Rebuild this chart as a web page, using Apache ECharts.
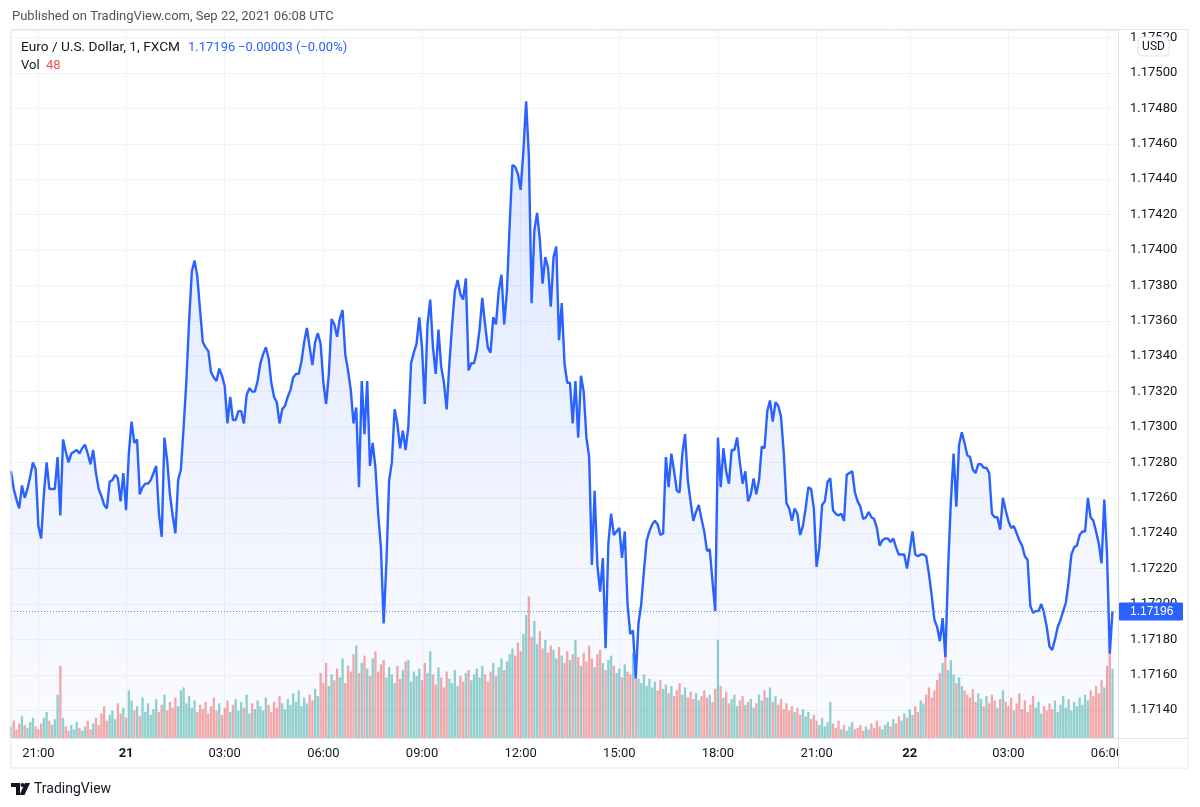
<!DOCTYPE html>
<html>
<head>
<meta charset="utf-8">
<title>EUR/USD 1m</title>
<script src="https://cdn.jsdelivr.net/npm/echarts@6/dist/echarts.min.js"></script>
<style>
  html, body { margin: 0; padding: 0; background: #fff; }
  #chart { width: 1200px; height: 807px; }
</style>
</head>
<body>
<div id="chart"></div>
<script>
// 5-minute samples of the 1-minute EUR/USD line, Sep 20 20:10 -> Sep 22 06:08 (UTC)
var prices = [
  1.17275, 1.17265, 1.17259, 1.17254, 1.17267, 1.17260, 1.17265, 1.17272, 1.17280, 1.17276,
  1.17244, 1.17237, 1.17262, 1.17280, 1.17265, 1.17265, 1.17265, 1.17283, 1.17250, 1.17293,
  1.17286, 1.17280, 1.17285, 1.17286, 1.17287, 1.17285, 1.17288, 1.17290, 1.17285, 1.17279,
  1.17287, 1.17274, 1.17265, 1.17261, 1.17256, 1.17254, 1.17269, 1.17270, 1.17273, 1.17271,
  1.17258, 1.17274, 1.17253, 1.17285, 1.17303, 1.17291, 1.17293, 1.17262, 1.17266, 1.17268,
  1.17268, 1.17270, 1.17274, 1.17278, 1.17251, 1.17238, 1.17294, 1.17281, 1.17262, 1.17250,
  1.17240, 1.17270, 1.17276, 1.17300, 1.17326, 1.17360, 1.17388, 1.17394, 1.17385, 1.17366,
  1.17348, 1.17345, 1.17343, 1.17331, 1.17328, 1.17326, 1.17333, 1.17329, 1.17323, 1.17302,
  1.17317, 1.17304, 1.17304, 1.17309, 1.17309, 1.17302, 1.17318, 1.17322, 1.17320, 1.17320,
  1.17326, 1.17336, 1.17341, 1.17345, 1.17339, 1.17325, 1.17317, 1.17314, 1.17302, 1.17310,
  1.17312, 1.17317, 1.17321, 1.17328, 1.17330, 1.17330, 1.17337, 1.17348, 1.17356, 1.17345,
  1.17335, 1.17348, 1.17353, 1.17347, 1.17325, 1.17313, 1.17330, 1.17361, 1.17358, 1.17351,
  1.17361, 1.17366, 1.17341, 1.17332, 1.17321, 1.17302, 1.17311, 1.17266, 1.17326, 1.17296,
  1.17326, 1.17278, 1.17291, 1.17277, 1.17251, 1.17232, 1.17189, 1.17223, 1.17270, 1.17280,
  1.17310, 1.17302, 1.17288, 1.17298, 1.17287, 1.17300, 1.17336, 1.17342, 1.17347, 1.17362,
  1.17345, 1.17313, 1.17358, 1.17372, 1.17345, 1.17330, 1.17355, 1.17334, 1.17325, 1.17310,
  1.17336, 1.17358, 1.17377, 1.17383, 1.17375, 1.17372, 1.17384, 1.17332, 1.17336, 1.17336,
  1.17343, 1.17355, 1.17373, 1.17358, 1.17345, 1.17342, 1.17362, 1.17358, 1.17377, 1.17386,
  1.17358, 1.17377, 1.17415, 1.17448, 1.17447, 1.17443, 1.17434, 1.17456, 1.17484, 1.17453,
  1.17370, 1.17411, 1.17421, 1.17406, 1.17381, 1.17396, 1.17390, 1.17368, 1.17396, 1.17402,
  1.17349, 1.17370, 1.17336, 1.17325, 1.17325, 1.17302, 1.17326, 1.17294, 1.17329, 1.17320,
  1.17294, 1.17283, 1.17222, 1.17264, 1.17222, 1.17207, 1.17226, 1.17175, 1.17234, 1.17251,
  1.17239, 1.17241, 1.17243, 1.17226, 1.17241, 1.17200, 1.17183, 1.17185, 1.17158, 1.17189,
  1.17200, 1.17219, 1.17236, 1.17241, 1.17245, 1.17247, 1.17245, 1.17239, 1.17240, 1.17283,
  1.17266, 1.17285, 1.17275, 1.17264, 1.17263, 1.17285, 1.17296, 1.17270, 1.17258, 1.17247,
  1.17252, 1.17256, 1.17248, 1.17241, 1.17230, 1.17231, 1.17213, 1.17196, 1.17294, 1.17266,
  1.17288, 1.17275, 1.17268, 1.17287, 1.17287, 1.17294, 1.17280, 1.17268, 1.17275, 1.17258,
  1.17262, 1.17271, 1.17262, 1.17270, 1.17289, 1.17288, 1.17309, 1.17315, 1.17303, 1.17314,
  1.17312, 1.17306, 1.17286, 1.17257, 1.17254, 1.17247, 1.17254, 1.17251, 1.17239, 1.17244,
  1.17254, 1.17266, 1.17265, 1.17254, 1.17221, 1.17232, 1.17256, 1.17258, 1.17269, 1.17271,
  1.17253, 1.17251, 1.17250, 1.17251, 1.17247, 1.17273, 1.17274, 1.17275, 1.17263, 1.17258,
  1.17255, 1.17248, 1.17249, 1.17252, 1.17249, 1.17248, 1.17243, 1.17233, 1.17236, 1.17237,
  1.17237, 1.17235, 1.17237, 1.17232, 1.17228, 1.17228, 1.17228, 1.17220, 1.17230, 1.17241,
  1.17228, 1.17227, 1.17228, 1.17228, 1.17227, 1.17217, 1.17205, 1.17191, 1.17187, 1.17179,
  1.17192, 1.17170, 1.17220, 1.17258, 1.17285, 1.17255, 1.17290, 1.17297, 1.17291, 1.17284,
  1.17283, 1.17276, 1.17274, 1.17279, 1.17279, 1.17277, 1.17277, 1.17274, 1.17251, 1.17249,
  1.17249, 1.17242, 1.17260, 1.17253, 1.17247, 1.17243, 1.17244, 1.17240, 1.17236, 1.17233,
  1.17227, 1.17225, 1.17199, 1.17195, 1.17196, 1.17196, 1.17200, 1.17195, 1.17187, 1.17176,
  1.17174, 1.17180, 1.17187, 1.17191, 1.17196, 1.17201, 1.17213, 1.17228, 1.17232, 1.17233,
  1.17239, 1.17241, 1.17241, 1.17260, 1.17249, 1.17247, 1.17241, 1.17234, 1.17223, 1.17259,
  1.17228, 1.17172, 1.17196
];

var volumes = [
  8, 12, 6, 10, 15, 9, 7, 11, 14, 8,
  6, 10, 14, 18, 12, 9, 13, 30, 50, 14,
  8, 5, 9, 6, 11, 7, 5, 8, 12, 6,
  10, 14, 9, 17, 22, 12, 16, 19, 13, 24,
  17, 21, 14, 33, 26, 19, 22, 15, 28, 18,
  24, 16, 20, 27, 18, 23, 30, 19, 25, 21,
  28, 22, 33, 35, 24, 29, 21, 26, 18, 23,
  20, 25, 17, 22, 28, 19, 24, 16, 21, 26,
  18, 23, 27, 19, 25, 21, 30, 17, 24, 20,
  26, 22, 19, 28, 23, 18, 25, 21, 29, 24,
  20, 27, 23, 31, 25, 33, 22, 28, 24, 30,
  26, 34, 29, 45, 38, 52, 36, 44, 40, 48,
  42, 55, 38, 50, 46, 58, 64, 45, 52, 57,
  48, 43, 55, 60, 46, 51, 54, 42, 49, 44,
  38, 50, 41, 47, 53, 54, 39, 46, 43, 48,
  40, 52, 45, 60, 44, 37, 49, 42, 35, 46,
  41, 38, 47, 36, 43, 39, 45, 47, 40, 44,
  48, 42, 50, 44, 39, 46, 52, 43, 49, 55,
  47, 53, 58, 62, 57, 66, 60, 72, 85, 98,
  70, 81, 65, 74, 62, 68, 59, 64, 61, 55,
  63, 57, 52, 60, 54, 58, 68, 56, 50, 59,
  53, 64, 55, 49, 58, 61, 52, 47, 54, 57,
  50, 45, 48, 42, 51, 46, 44, 59, 53, 41,
  38, 44, 36, 41, 35, 39, 33, 40, 34, 37,
  31, 36, 29, 33, 38, 30, 35, 28, 32, 27,
  31, 26, 29, 33, 28, 30, 25, 34, 68, 36,
  28, 32, 24, 27, 30, 22, 26, 29, 23, 25,
  27, 21, 24, 30, 26, 33, 28, 35, 25, 29,
  23, 27, 20, 24, 19, 22, 18, 21, 16, 20,
  15, 18, 13, 16, 12, 9, 14, 8, 11, 25,
  10, 7, 12, 6, 9, 5, 8, 11, 6, 7,
  9, 5, 8, 6, 10, 7, 12, 8, 6, 9,
  11, 8, 13, 10, 15, 12, 17, 14, 20, 16,
  22, 18, 26, 24, 30, 35, 28, 33, 40, 45,
  52, 61, 47, 54, 44, 38, 42, 36, 33, 30,
  28, 34, 25, 31, 27, 22, 29, 24, 30, 26,
  21, 27, 33, 25, 22, 28, 19, 24, 31, 20,
  26, 18, 23, 29, 21, 25, 17, 22, 19, 24,
  20, 26, 18, 23, 29, 21, 27, 19, 25, 22,
  28, 23, 30, 26, 33, 29, 36, 31, 40, 35,
  50, 68, 48
];

// minutes with no bars around the daily rollover
var skipTimes = ['2021-09-20 21:05', '2021-09-20 21:10', '2021-09-20 21:15', '2021-09-20 21:20',
                 '2021-09-21 21:05', '2021-09-21 21:10'];
var tailTimes = ['2021-09-22 06:08', '2021-09-22 06:10', '2021-09-22 06:15'];

var lastPrice = 1.17196;
var lastVol = 48;

function pad(n) { return n < 10 ? '0' + n : '' + n; }

function buildTimes() {
    var out = [];
    var t = Date.UTC(2021, 8, 20, 20, 10);
    var end = Date.UTC(2021, 8, 22, 6, 5);
    for (; t <= end; t += 5 * 60000) {
        var d = new Date(t);
        var s = d.getUTCFullYear() + '-' + pad(d.getUTCMonth() + 1) + '-' + pad(d.getUTCDate()) +
            ' ' + pad(d.getUTCHours()) + ':' + pad(d.getUTCMinutes());
        if (skipTimes.indexOf(s) < 0) out.push(s);
    }
    return out.concat(tailTimes);
}

var times = buildTimes();

function isMajor(index, value) {
    var hm = value.slice(11);
    return hm.slice(3) === '00' && (+hm.slice(0, 2)) % 3 === 0;
}

var volData = volumes.map(function(v, i) {
    var up = i === 0 || prices[i] >= prices[i - 1];
    return { value: v, itemStyle: { color: up ? 'rgba(38,166,154,0.5)' : 'rgba(239,83,80,0.5)' } };
});

var font = 'Roboto, "Noto Sans", sans-serif';

function txt(x, y, text, size, color, extra) {
    var el = { type: 'text', x: x, y: y, z: 100, style: { text: text, font: size + 'px ' + font, fill: color,
        verticalAlign: 'middle', textVerticalAlign: 'middle' } };
    if (extra) for (var k in extra) el.style[k] = extra[k];
    return el;
}

var graphics = [
    txt(12, 17, 'Published on TradingView.com, Sep 22, 2021 06:08 UTC', 13, '#50535e'),
    txt(21, 48, 'Euro / U.S. Dollar, 1, FXCM', 13.7, '#131722'),
    txt(188, 48, lastPrice.toFixed(5), 13, '#2962ff'),
    txt(238, 48, '\u22120.00003 (\u22120.00%)', 13, '#2962ff'),
    txt(21, 66, 'Vol', 13, '#131722'),
    txt(46, 66, '' + lastVol, 13, '#ef5350'),

    // pane borders
    { type: 'rect', z: 90, shape: { x: 11, y: 29.5, width: 1177, height: 738.5 },
        style: { fill: 'none', stroke: '#e0e3eb', lineWidth: 1 } },
    { type: 'rect', z: 95, shape: { x: 1119, y: 739, width: 68.5, height: 28.5 },
        style: { fill: '#ffffff' } },
    { type: 'line', z: 96, shape: { x1: 1118.5, y1: 29.5, x2: 1118.5, y2: 768 },
        style: { stroke: '#e0e3eb', lineWidth: 1 } },
    { type: 'line', z: 96, shape: { x1: 11, y1: 738.5, x2: 1188, y2: 738.5 },
        style: { stroke: '#e0e3eb', lineWidth: 1 } },

    // currency badge
    { type: 'rect', z: 100, shape: { x: 1138, y: 37, width: 31, height: 19, r: 4 },
        style: { fill: '#ffffff', stroke: '#e0e3eb', lineWidth: 1 } },
    txt(1153.5, 46.5, 'USD', 12, '#131722', { align: 'center', textAlign: 'center' }),

    // footer logo
    { type: 'polygon', shape: { points: [[11, 783], [20, 783], [20, 795], [16, 795], [16, 787], [11, 787]] },
        style: { fill: '#131722' } },
    { type: 'circle', shape: { cx: 22.5, cy: 785, r: 2 }, style: { fill: '#131722' } },
    { type: 'polygon', shape: { points: [[25, 783], [30, 783], [24.5, 795], [19.5, 795]] },
        style: { fill: '#131722' } },
    txt(34, 789, 'TradingView', 14, '#131722')
];

var option = {
    animation: false,
    backgroundColor: '#ffffff',
    textStyle: { fontFamily: font },
    grid: { left: 11, right: 82, top: 30, bottom: 69 },
    xAxis: {
        type: 'category',
        data: times,
        boundaryGap: false,
        axisLine: { show: false },
        axisTick: { show: false },
        axisLabel: {
            interval: isMajor,
            color: '#131722',
            fontSize: 13,
            margin: 9,
            formatter: function(value) {
                var hm = value.slice(11);
                if (hm === '00:00') return '{b|' + (+value.slice(8, 10)) + '}';
                return hm;
            },
            rich: { b: { fontWeight: 'bold', fontSize: 13, color: '#131722' } }
        },
        splitLine: { show: true, interval: isMajor, lineStyle: { color: '#f0f3fa', width: 1 } }
    },
    yAxis: [{
        type: 'value',
        position: 'right',
        min: 1.171243,
        max: 1.175243,
        minInterval: 0.0002,
        maxInterval: 0.0002,
        axisLine: { show: false },
        axisTick: { show: false },
        axisLabel: {
            showMinLabel: false,
            showMaxLabel: false,
            margin: 12,
            color: '#131722',
            fontSize: 13,
            formatter: function(v) { return v.toFixed(5); }
        },
        splitLine: { lineStyle: { color: '#f0f3fa', width: 1 } }
    }, {
        type: 'value',
        min: 0,
        max: 490,
        show: false
    }],
    series: [{
        name: 'Vol',
        type: 'bar',
        yAxisIndex: 1,
        data: volData,
        barCategoryGap: '15%',
        z: 1,
        silent: true
    }, {
        name: 'EURUSD',
        type: 'line',
        data: prices,
        showSymbol: false,
        z: 3,
        lineStyle: { color: '#2962ff', width: 2.4 },
        itemStyle: { color: '#2962ff' },
        areaStyle: {
            color: new echarts.graphic.LinearGradient(0, 0, 0, 1, [
                { offset: 0, color: 'rgba(41,98,255,0.22)' },
                { offset: 1, color: 'rgba(41,98,255,0.03)' }
            ])
        }
    }],
    graphic: graphics
};

var chart = echarts.init(document.getElementById('chart'));
chart.setOption(option);

// last-price line and tag, placed through the price axis scale
var lastY = Math.round(chart.convertToPixel({ yAxisIndex: 0 }, lastPrice)) + 0.5;
graphics.push(
    { type: 'line', z: 80, shape: { x1: 11, y1: lastY, x2: 1118, y2: lastY },
        style: { stroke: '#6f8ff5', lineWidth: 1, lineDash: [1, 2] } },
    { type: 'rect', z: 110, shape: { x: 1119, y: lastY - 9, width: 64, height: 18, r: 1 },
        style: { fill: '#2962ff' } },
    txt(1130, lastY + 0.5, lastPrice.toFixed(5), 13, '#ffffff', { fontWeight: 'normal' })
);
graphics[graphics.length - 1].z = 111;
chart.setOption(option, true);
</script>
</body>
</html>
